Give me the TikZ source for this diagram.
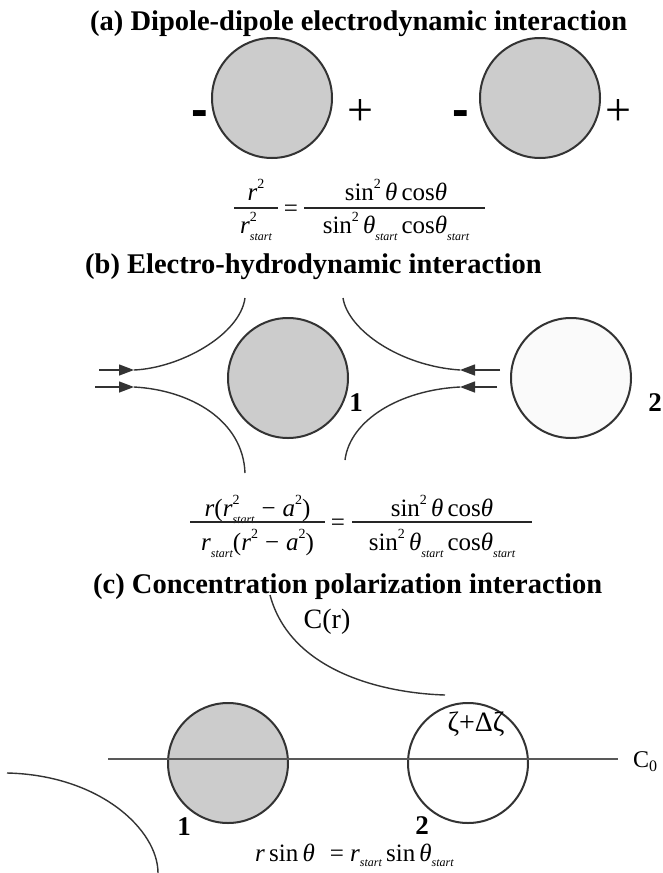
\documentclass[tikz,border=0pt]{standalone}
\usepackage{fontspec}
\setmainfont{Liberation Serif}
\newfontfamily\signfont{Liberation Sans}
\usetikzlibrary{arrows.meta}
\newcommand{\sups}[1]{\raisebox{0.45em}{\fontsize{14}{14}\selectfont #1}}
\newcommand{\subs}[1]{\raisebox{-0.3em}{\fontsize{12}{12}\selectfont\itshape #1}}
\newcommand{\rsq}{\textit{r}\rlap{\sups{2}}\subs{start}}
\begin{document}
\begin{tikzpicture}[x=1pt,y=-1pt,
  ball/.style={circle, draw=black!80, line width=2pt, minimum size=120pt, inner sep=0pt, fill=black!20},
  pale/.style={ball, fill=black!2},
  ttl/.style={font=\fontsize{28.5}{30}\selectfont\bfseries, anchor=base west, inner sep=0pt},
  eq/.style={font=\fontsize{25}{28}\selectfont, anchor=base, inner sep=0pt},
  lbl/.style={font=\fontsize{27}{28}\selectfont\bfseries, inner sep=0pt},
  sign/.style={font=\fontsize{46}{46}\selectfont, anchor=base, inner sep=0pt},
  neg/.style={font=\signfont\fontsize{50}{50}\selectfont\bfseries, anchor=base, inner sep=0pt},
  fracline/.style={line width=1.2pt, black!85},
  flow/.style={line width=1.4pt, black!80},
  tip/.style={-{Triangle[length=15pt,width=11pt]}},
  axis/.style={line width=1.4pt, black!65}]
\useasboundingbox[fill=white] (0,0) rectangle (662,873);

% ---------------- (a)
\node[ttl] (ta) at (90,30) {(a) Dipole-dipole electrodynamic interaction};
\node[ball] (a1) at (272,98) {};
\node[ball] (a2) at (540,98) {};
\node[neg] (am1) at (200,126) {-};
\node[sign] (ap1) at (360,125) {+};
\node[neg] (am2) at (461,126) {-};
\node[sign] (ap2) at (618,125) {+};

\node[eq] (ea1) at (256,200) {\textit{r}\sups{2}};
\node[eq] (ea2) at (256,233) {\rsq};
\coordinate (la1) at (234,208); \coordinate (la2) at (278,208);
\draw[fracline] (la1) -- (la2);
\node[eq] (eaeq) at (291,216) {=};
\node[eq] (ea3) at (396,200) {sin\sups{2}\,\textit{θ}\,cos\textit{θ}};
\node[eq] (ea4) at (396,233) {sin\sups{2}\,\textit{θ}\subs{start}\,cos\textit{θ}\subs{start}};
\coordinate (la3) at (304,208); \coordinate (la4) at (485,208);
\draw[fracline] (la3) -- (la4);

% ---------------- (b)
\node[ttl] (tb) at (85,273) {(b) Electro-hydrodynamic interaction};
\node[ball] (b1) at (288,378) {};
\node[pale] (b2) at (571,378) {};
\node[lbl] (bl1) at (356,403) {1};
\node[lbl] (bl2) at (655,403) {2};

\coordinate (p1s) at (99,370);  \coordinate (p1t) at (134,370); \coordinate (p1e) at (245,298);
\coordinate (p2s) at (95,387);  \coordinate (p2t) at (134,387); \coordinate (p2e) at (245,473);
\coordinate (p3s) at (500,370); \coordinate (p3t) at (460,370); \coordinate (p3e) at (343,298);
\coordinate (p4s) at (497,387); \coordinate (p4t) at (460,387); \coordinate (p4e) at (345,460);
\draw[flow,tip] (p1s) -- (p1t);
\draw[flow] (p1t) .. controls (180,368) and (240,335) .. (p1e);
\draw[flow,tip] (p2s) -- (p2t);
\draw[flow] (p2t) .. controls (190,390) and (243,420) .. (p2e);
\draw[flow,tip] (p3s) -- (p3t);
\draw[flow] (p3t) .. controls (400,366) and (348,330) .. (p3e);
\draw[flow,tip] (p4s) -- (p4t);
\draw[flow] (p4t) .. controls (400,390) and (350,420) .. (p4e);

\node[eq] (eb1) at (257.5,516) {\textit{r}(\rsq\;−\;\textit{a}\sups{2})};
\node[eq] (eb2) at (257.5,550) {\textit{r}\subs{start}(\textit{r}\sups{2}\;−\;\textit{a}\sups{2})};
\coordinate (lb1) at (190,522); \coordinate (lb2) at (325,522);
\draw[fracline] (lb1) -- (lb2);
\node[eq] (ebeq) at (338,530) {=};
\node[eq] (eb3) at (442,516) {sin\sups{2}\,\textit{θ}\,cos\textit{θ}};
\node[eq] (eb4) at (442,550) {sin\sups{2}\,\textit{θ}\subs{start}\,cos\textit{θ}\subs{start}};
\coordinate (lb3) at (352,522); \coordinate (lb4) at (532,522);
\draw[fracline] (lb3) -- (lb4);

% ---------------- (c)
\node[ttl] (tc) at (93,593) {(c) Concentration polarization interaction};
\node[ball] (c1) at (228,763) {};
\node[ball, fill=white] (c2) at (468,763) {};
\coordinate (x1) at (108,759); \coordinate (x2) at (618,759);
\draw[axis] (x1) -- (x2);
\node[font=\fontsize{24}{24}\selectfont, anchor=base west, inner sep=0pt] (c0) at (633,767) {C\raisebox{-0.2em}{\fontsize{16}{16}\selectfont 0}};
\node[font=\fontsize{28}{28}\selectfont, anchor=base, inner sep=0pt] (cr) at (327,628) {C(r)};
\node[font=\fontsize{28}{28}\selectfont, anchor=base, inner sep=0pt] (zeta) at (476,731) {ζ+Δζ};
\node[lbl] (cl1) at (184,827) {1};
\node[lbl] (cl2) at (422,826) {2};

\coordinate (q1s) at (270,595); \coordinate (q1e) at (445,695);
\draw[flow] (q1s) .. controls (290,670) and (380,693) .. (q1e);
\coordinate (q2s) at (7,773); \coordinate (q2e) at (158,873);
\draw[flow] (q2s) .. controls (100,775) and (158,830) .. (q2e);

\node[eq, anchor=base west] (ec) at (255,861) {\textit{r}\,sin\,\textit{θ}\hspace{0.6em}= \textit{r}\raisebox{-0.2em}{\fontsize{12}{12}\selectfont\itshape start}\,sin\,\textit{θ}\raisebox{-0.2em}{\fontsize{12}{12}\selectfont\itshape start}};
\end{tikzpicture}
\end{document}
